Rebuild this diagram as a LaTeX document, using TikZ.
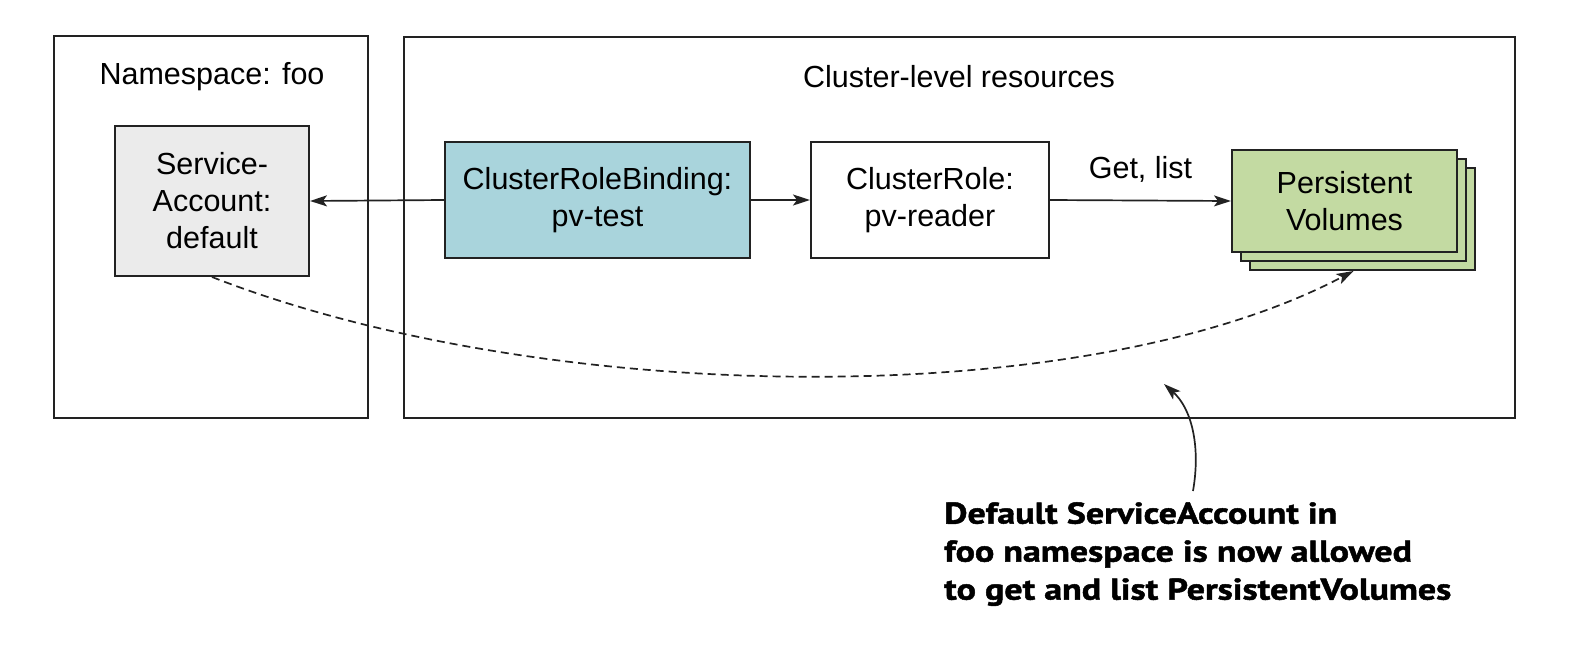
\documentclass[tikz,border=0pt]{standalone}
\usepackage{fontspec}
\setmainfont{Liberation Sans}
\newfontfamily\annfont[BoldFeatures={FakeStretch=1.2,FakeBold=1.6}]{PT Sans}
\usetikzlibrary{arrows.meta}
\definecolor{linec}{HTML}{222222}
\definecolor{safill}{HTML}{EBEBEB}
\definecolor{bindfill}{HTML}{A9D4DC}
\definecolor{pvfill}{HTML}{C3DAA2}
\tikzset{
  box/.style={draw=linec, line width=2pt, rectangle, inner sep=0pt, align=center,
    font=\fontsize{30.5}{37}\selectfont},
  lbl/.style={inner sep=0pt, align=center, font=\fontsize{30.5}{37}\selectfont},
  conn/.style={draw=linec, line width=1.7pt, -{Stealth[length=17pt,width=11pt,inset=4pt]}},
  dconn/.style={conn, dash pattern=on 8pt off 5pt},
  ann/.style={inner sep=0pt, align=left, anchor=north west,
    font=\annfont\bfseries\fontsize{30}{38}\selectfont}
}
\begin{document}
\begin{tikzpicture}[x=1pt,y=-1pt]
\useasboundingbox (0,0) rectangle (1582,648);
% containers
\node[box, minimum width=314pt, minimum height=382pt] (ns) at (211,227) {};
\node[box, minimum width=1111pt, minimum height=381pt] (cl) at (959.5,227.5) {};
\node[lbl] (nstitle) at (212,77) {Namespace: foo};
\node[lbl] (cltitle) at (959,77) {Cluster-level resources};
% nodes
\node[box, fill=safill, minimum width=194pt, minimum height=150pt] (sa) at (212,201) {Service-\\Account:\\default};
\node[box, fill=bindfill, minimum width=305pt, minimum height=116pt] (crb) at (597.5,200) {ClusterRoleBinding:\\pv-test};
\node[box, fill=white, minimum width=238pt, minimum height=116pt] (cr) at (930,200) {ClusterRole:\\pv-reader};
\node[box, fill=pvfill, minimum width=225pt, minimum height=102pt] (pv3) at (1362.5,219) {};
\node[box, fill=pvfill, minimum width=225pt, minimum height=102pt] (pv2) at (1353.5,210) {};
\node[box, fill=pvfill, minimum width=225pt, minimum height=102pt] (pv1) at (1344.5,201) {Persistent\\Volumes};
% connectors
\draw[conn] (crb.west) -- (sa.east);
\draw[conn] (crb.east) -- (cr.west);
\draw[conn] (cr.east) -- node[lbl, above=17pt] (getlist) {Get, list} (pv1.west);
\draw[dconn] (sa.south) .. controls (540,405) and (1080,415) .. ([xshift=-9pt]pv3.south);
% annotation
\node[ann] (anntext) at (944,502) {Default ServiceAccount in\\foo namespace is now allowed\\to get and list PersistentVolumes};
\coordinate (annstart) at (1193,491);
\coordinate (anntip) at (1164,384);
\draw[conn] (annstart) .. controls (1201,445) and (1191,408) .. (anntip);
\end{tikzpicture}
\end{document}
